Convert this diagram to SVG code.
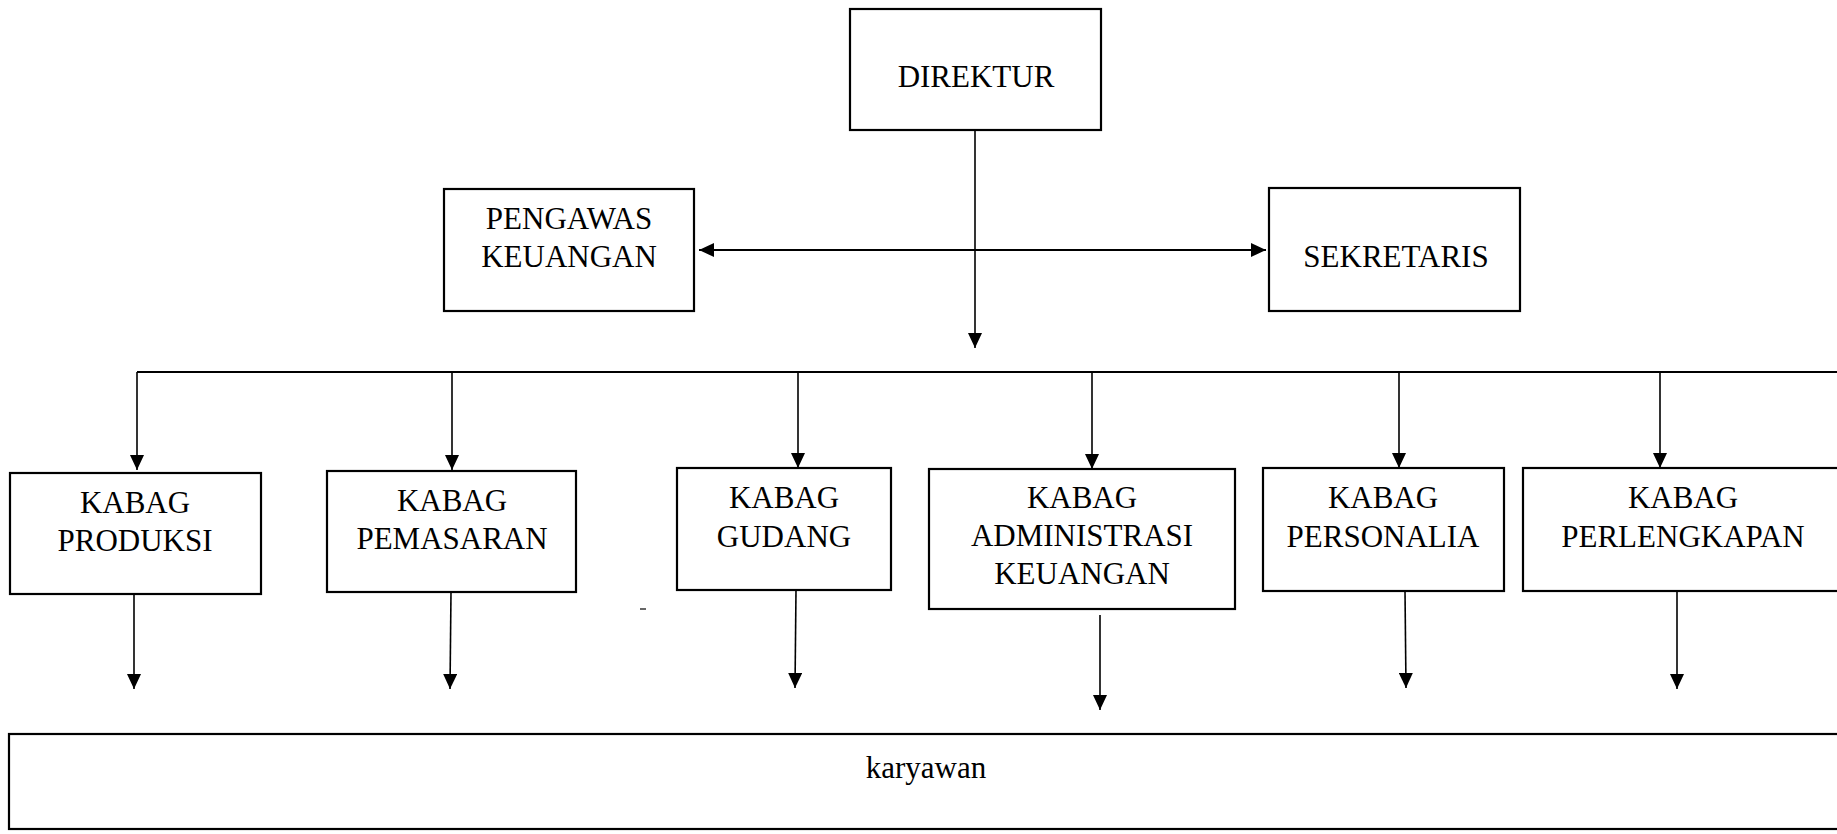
<svg xmlns="http://www.w3.org/2000/svg" width="1837" height="834" viewBox="0 0 1837 834">
<style>
.box{fill:#fff;stroke:#000;stroke-width:2.2}
.t{font-family:"Liberation Serif","Times New Roman",serif;font-size:31px;fill:#000;text-anchor:middle}
.c{fill:none;stroke:#000;stroke-width:1.6}
.bus{fill:none;stroke:#000;stroke-width:2.2}
</style>
<defs>
<marker id="ah" markerUnits="userSpaceOnUse" markerWidth="16" markerHeight="14" refX="15" refY="7" orient="auto-start-reverse">
<path d="M0,0 L15,7 L0,14 z" fill="#000"/>
</marker>
</defs>
<rect width="1837" height="834" fill="#fff"/>
<g id="connectors">
<line class="c" x1="975" y1="130" x2="975" y2="348" marker-end="url(#ah)"/>
<line class="c" x1="699" y1="250" x2="1266" y2="250" marker-start="url(#ah)" marker-end="url(#ah)" style="stroke-width:2.2"/>
<line class="bus" x1="137" y1="372" x2="1837" y2="372"/>
<line class="c" x1="137" y1="372" x2="137" y2="470" marker-end="url(#ah)"/>
<line class="c" x1="452" y1="372" x2="452" y2="470" marker-end="url(#ah)"/>
<line class="c" x1="798" y1="372" x2="798" y2="468" marker-end="url(#ah)"/>
<line class="c" x1="1092" y1="372" x2="1092" y2="469" marker-end="url(#ah)"/>
<line class="c" x1="1399" y1="372" x2="1399" y2="468" marker-end="url(#ah)"/>
<line class="c" x1="1660" y1="372" x2="1660" y2="468" marker-end="url(#ah)"/>
<line class="c" x1="134" y1="594" x2="134" y2="689" marker-end="url(#ah)"/>
<line class="c" x1="451" y1="592" x2="450" y2="689" marker-end="url(#ah)"/>
<line class="c" x1="796" y1="590" x2="795" y2="688" marker-end="url(#ah)"/>
<line class="c" x1="1100" y1="615" x2="1100" y2="710" marker-end="url(#ah)"/>
<line class="c" x1="1405" y1="591" x2="1406" y2="688" marker-end="url(#ah)"/>
<line class="c" x1="1677" y1="591" x2="1677" y2="689" marker-end="url(#ah)"/>
<line x1="640" y1="609" x2="646" y2="609" stroke="#000" stroke-width="1.2"/>
</g>
<g id="direktur">
<rect class="box" x="850" y="9" width="251" height="121"/>
<text class="t" x="976" y="87">DIREKTUR</text>
</g>
<g id="pengawas">
<rect class="box" x="444" y="189" width="250" height="122"/>
<text class="t" x="569" y="229">PENGAWAS</text>
<text class="t" x="569" y="267">KEUANGAN</text>
</g>
<g id="sekretaris">
<rect class="box" x="1269" y="188" width="251" height="123"/>
<text class="t" x="1396" y="267">SEKRETARIS</text>
</g>
<g id="kabag-produksi">
<rect class="box" x="10" y="473" width="251" height="121"/>
<text class="t" x="135" y="513">KABAG</text>
<text class="t" x="135" y="551">PRODUKSI</text>
</g>
<g id="kabag-pemasaran">
<rect class="box" x="327" y="471" width="249" height="121"/>
<text class="t" x="452" y="511">KABAG</text>
<text class="t" x="452" y="549">PEMASARAN</text>
</g>
<g id="kabag-gudang">
<rect class="box" x="677" y="468" width="214" height="122"/>
<text class="t" x="784" y="508">KABAG</text>
<text class="t" x="784" y="547">GUDANG</text>
</g>
<g id="kabag-administrasi">
<rect class="box" x="929" y="469" width="306" height="140"/>
<text class="t" x="1082" y="508">KABAG</text>
<text class="t" x="1082" y="546">ADMINISTRASI</text>
<text class="t" x="1082" y="584">KEUANGAN</text>
</g>
<g id="kabag-personalia">
<rect class="box" x="1263" y="468" width="241" height="123"/>
<text class="t" x="1383" y="508">KABAG</text>
<text class="t" x="1383" y="547">PERSONALIA</text>
</g>
<g id="kabag-perlengkapan">
<rect class="box" x="1523" y="468" width="330" height="123"/>
<text class="t" x="1683" y="508">KABAG</text>
<text class="t" x="1683" y="547">PERLENGKAPAN</text>
</g>
<g id="karyawan">
<rect class="box" x="9" y="734" width="1850" height="95"/>
<text class="t" x="926" y="778">karyawan</text>
</g>
</svg>
